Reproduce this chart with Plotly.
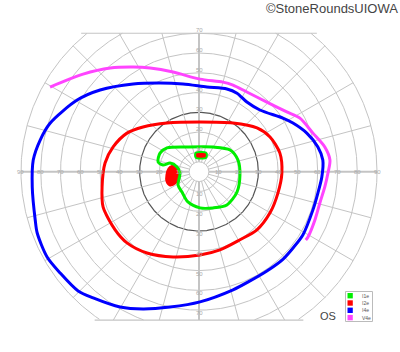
import numpy as np
import plotly.graph_objects as go

# ---- Isopter data: visual-field coordinates in degrees (x = horizontal, y = vertical) ----
v4e_x = [-75.3, -58.6, -44.9, -33.3, -24.7, -13.1, 0.5, 12.1, 17.2, 24.2, 34.3, 44.4, 51.0,
         57.6, 63.6, 66.2, 65.2, 63.6, 61.1, 58.6, 55.1, 54.0]
v4e_y = [42.8, 49.3, 52.4, 52.9, 52.4, 50.4, 46.8, 45.3, 43.8, 40.3, 35.2, 30.2, 27.1,
         19.5, 12.5, 5.9, -0.7, -7.7, -15.8, -24.4, -33.0, -34.5]

i4e_x = [-75.3, -61.6, -50.0, -33.3, -19.7, -8.1, 4.0, 14.1, 19.2, 24.2, 30.8, 42.4, 47.5,
         54.5, 60.1, 62.6, 62.1, 60.1, 57.6, 52.5, 47.5, 42.4, 34.3, 25.8, 17.2, 0.5,
         -14.6, -28.3, -39.9, -53.5, -61.1, -70.2, -76.8, -81.8, -82.8, -84.3, -83.8, -80.3, -75.3]
i4e_y = [24.5, 36.2, 41.3, 44.3, 44.8, 44.3, 42.8, 41.8, 39.7, 35.2, 31.2, 27.1, 24.6,
         19.5, 12.5, 5.9, -2.7, -10.8, -19.3, -32.0, -38.6, -44.3, -50.2, -55.2, -59.7, -65.8,
         -68.4, -69.4, -68.4, -63.8, -60.3, -51.2, -43.1, -31.0, -24.4, -7.7, 5.9, 16.0, 24.5]

i2e_x = [0.5, 17.2, 29.3, 35.9, 40.9, 41.9, 39.9, 35.9, 29.3, 20.7, 10.6, 0.5, -13.1, -26.3,
         -36.4, -42.4, -48.5, -49.0, -47.5, -43.4, -36.4, -28.3, -16.2, 0.5]
i2e_y = [25.1, 24.6, 22.1, 17.5, 9.4, -0.7, -10.8, -20.8, -29.4, -34.4, -39.5, -42.1, -43.1, -41.1,
         -36.0, -29.4, -17.8, -7.7, 4.4, 12.5, 19.5, 22.6, 24.6, 25.1]

i2e_island_x = [-11.6, -10.4, -10.6, -12.1, -14.6, -16.2, -16.2, -15.2, -13.6, -11.6]
i2e_island_y = [2.4, -0.2, -3.2, -5.7, -6.7, -4.7, -1.7, 1.4, 2.6, 2.4]

i1e_x = [-18.2, -14.6, -11.1, -9.6, -10.6, -8.6, -5.6, 0.5, 7.1, 14.1, 19.2, 20.7, 19.7, 15.7,
         7.1, -6.1, -16.2, -19.7, -20.7, -18.2]
i1e_y = [3.4, 4.4, 2.4, -0.7, -6.7, -10.3, -15.3, -18.3, -18.3, -16.8, -10.3, -1.7, 5.9, 11.0,
         12.5, 12.5, 12.0, 9.4, 4.9, 3.4]

i1e_island_x = [-2.0, -1.5, 1.0, 3.5, 4.0, 3.5, 1.0, -1.5, -2.0]
i1e_island_y = [8.4, 9.7, 10.0, 9.7, 8.4, 6.9, 6.7, 6.9, 8.4]
i2e_center_x = [-1.0, 1.0, 3.0, 1.0, -1.0]
i2e_center_y = [8.2, 8.9, 8.2, 7.4, 8.2]

legend_names = ["I1e", "I2e", "I4e", "V4e"]
legend_colors = ["#00ee00", "#ff0000", "#0000ff", "#ff44ff"]

ring_radii = [5, 10, 20, 30, 40, 50, 60, 70, 80, 90]
h_tick_labels = [10, 20, 30, 40, 50, 60, 70, 80, 90]
v_tick_labels = [10, 20, 30, 40, 50, 60, 70]
meridians = list(range(0, 360, 15))
TOP, BOTTOM = 70, -75

# ---- scale: pixel mapping (1.978 px per degree, centre at 199,171.7) ----
K = 1.978
CX, CY = 199.0, 171.7
xr = [-CX / K, (400 - CX) / K]
yr = [-(352 - CY) / K, CY / K]

def px(xp, yp):
    return (xp - CX) / K, (CY - yp) / K

fig = go.Figure()
grid = "#c4c4c4"

# rings
for r in ring_radii:
    t = np.linspace(0, 2 * np.pi, 721)
    x = r * np.cos(t)
    y = r * np.sin(t)
    mask = (y > TOP) | (y < BOTTOM)
    x = np.where(mask, np.nan, x)
    y = np.where(mask, np.nan, y)
    col = "#555555" if r == 30 else grid
    fig.add_trace(go.Scatter(x=x, y=y, mode="lines", line=dict(color=col, width=1.2 if r == 30 else 1),
                             hoverinfo="skip", showlegend=False, connectgaps=False))

# meridians
for a in meridians:
    ar = np.deg2rad(a)
    s = np.sin(ar)
    rmax = 90
    if s > 1e-6:
        rmax = min(90, TOP / s)
    elif s < -1e-6:
        rmax = min(90, BOTTOM / s)
    width = 2 if a % 90 == 0 else 1
    fig.add_trace(go.Scatter(x=[5 * np.cos(ar), rmax * np.cos(ar)], y=[5 * np.sin(ar), rmax * np.sin(ar)],
                             mode="lines", line=dict(color=grid, width=width),
                             hoverinfo="skip", showlegend=False))

# top / bottom clip lines
for yc in (TOP, BOTTOM):
    xe = np.sqrt(90 ** 2 - yc ** 2)
    fig.add_trace(go.Scatter(x=[-xe - 3, xe + 3], y=[yc, yc], mode="lines", line=dict(color=grid, width=1.2),
                             hoverinfo="skip", showlegend=False))

# tick labels
lab_font = dict(family="Liberation Sans, Arial", size=6, color="#aaaaaa")
for v in h_tick_labels:
    for sgn in (-1, 1):
        fig.add_annotation(x=sgn * v, y=0, text=str(v), showarrow=False, font=lab_font)
for v in v_tick_labels:
    for sgn in (-1, 1):
        fig.add_annotation(x=0, y=sgn * v, text=str(v), showarrow=False, font=lab_font,
                           yshift=3 if sgn > 0 else -3)

# isopters
def iso(x, y, color, name, fill=None):
    fig.add_trace(go.Scatter(x=x, y=y, mode="lines", name=name,
                             line=dict(color=color, width=3, shape="spline", smoothing=0.8),
                             fill=fill, fillcolor=color if fill else None,
                             hoverinfo="skip", showlegend=False))

iso(v4e_x, v4e_y, legend_colors[3], "V4e")
iso(i4e_x, i4e_y, legend_colors[2], "I4e")
iso(i2e_x, i2e_y, legend_colors[1], "I2e")
iso(i2e_island_x, i2e_island_y, legend_colors[1], "I2e", fill="toself")
iso(i1e_x, i1e_y, legend_colors[0], "I1e")
fig.add_trace(go.Scatter(x=i1e_island_x, y=i1e_island_y, mode="lines",
                         line=dict(color=legend_colors[0], width=2, shape="spline"),
                         fill="toself", fillcolor=legend_colors[1], hoverinfo="skip", showlegend=False))
fig.add_trace(go.Scatter(x=i2e_center_x, y=i2e_center_y, mode="lines",
                         line=dict(color=legend_colors[1], width=1, shape="spline"),
                         fill="toself", fillcolor=legend_colors[1], hoverinfo="skip", showlegend=False))

# legend box
x0, y0 = px(345.5, 291.5)
x1, y1 = px(372.5, 321.5)
fig.add_shape(type="rect", x0=x0, y0=y0, x1=x1, y1=y1, line=dict(color="#bbbbbb", width=1), fillcolor="white")
for i, (nm, col) in enumerate(zip(legend_names, legend_colors)):
    yc = 295.7 + i * 7.3
    a0, b0 = px(347.5, yc - 2.7)
    a1, b1 = px(352.8, yc + 2.7)
    fig.add_shape(type="rect", x0=a0, y0=b0, x1=a1, y1=b1, line=dict(width=0), fillcolor=col)
    tx, ty = px(360, yc)
    fig.add_annotation(x=tx, y=ty, text=nm, showarrow=False, xanchor="left",
                       font=dict(family="Liberation Sans, Arial", size=5, color="#555555"))

ox, oy = px(327.5, 316)
fig.add_annotation(x=ox, y=oy, text="OS", showarrow=False,
                   font=dict(family="Liberation Sans, Arial", size=11, color="#444444"))

fig.add_annotation(x=1.0, y=1.0, xref="paper", yref="paper", xanchor="right", yanchor="top",
                   text="©StoneRoundsUIOWA", showarrow=False, yshift=1,
                   font=dict(family="Liberation Sans, Arial", size=13, color="#444444"))

fig.update_layout(width=400, height=352, margin=dict(l=0, r=0, t=0, b=0),
                  plot_bgcolor="white", paper_bgcolor="white", showlegend=False)
fig.update_xaxes(range=xr, visible=False, fixedrange=True)
fig.update_yaxes(range=yr, visible=False, fixedrange=True)
fig.write_html("out.html", config={"displayModeBar": False})
